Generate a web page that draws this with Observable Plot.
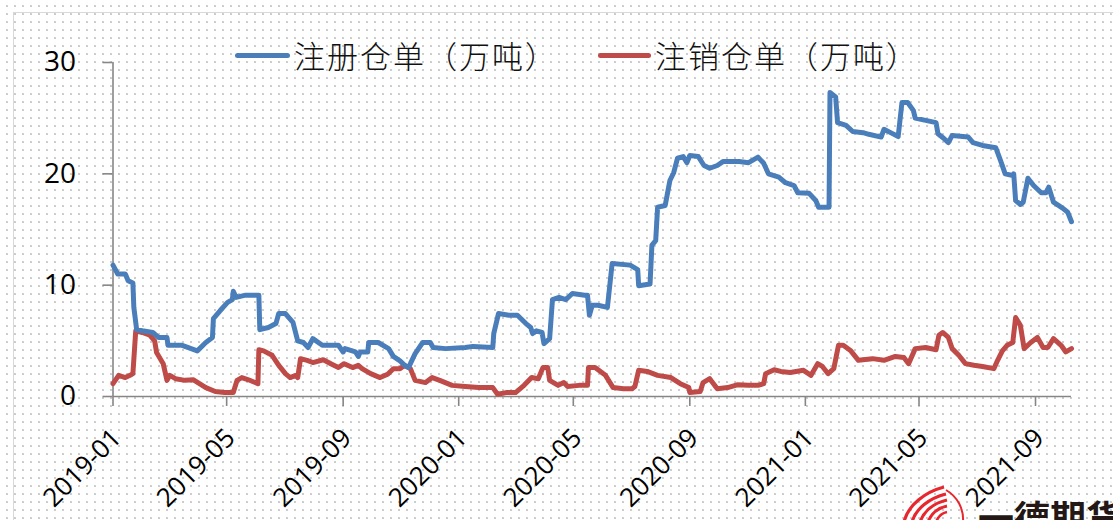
<!DOCTYPE html>
<html>
<head>
<meta charset="utf-8">
<script src="https://cdn.jsdelivr.net/npm/d3@7"></script>
<script src="https://cdn.jsdelivr.net/npm/@observablehq/plot@0.6"></script>
<style>
  html, body { margin: 0; padding: 0; }
  body {
    width: 1113px; height: 520px; overflow: hidden; position: relative;
    background-color: #ffffff;
    background-image: radial-gradient(circle, #cdcdcd 0.8px, rgba(255,255,255,0) 1.1px);
    background-size: 8px 8px;
    background-position: 3px 2px;
  }
  #frame { position: absolute; left: 13px; top: 12px; width: 1200px; height: 600px;
    border-left: 1.5px solid #d9d9d9; border-top: 1.5px solid #d9d9d9; }
  #chart { position: absolute; left: 0; top: 0; }
  .lg-sw { position: absolute; height: 5px; border-radius: 3px; }
  .lg-tx { position: absolute; font-family: "Noto Sans CJK SC", sans-serif; font-size: 31px;
    line-height: 31px; color: #111; font-weight: 300; white-space: nowrap; letter-spacing: 2px; }
  #logo { position: absolute; left: 0; top: 0; }
</style>
</head>
<body>
<div id="frame"></div>
<div id="chart"></div>
<div class="lg-sw" id="sw1" style="left:235px; top:52.5px; width:55px; background:#4a7ebb;"></div>
<div class="lg-tx" id="tx1" style="left:294px; top:39px;"></div>
<div class="lg-sw" id="sw2" style="left:598px; top:52.5px; width:53px; background:#be4b48;"></div>
<div class="lg-tx" id="tx2" style="left:655px; top:39px;"></div>
<script>
// ---- data ----
const seriesNames = ["注册仓单（万吨）", "注销仓单（万吨）"];
const seriesColors = ["#4a7ebb", "#be4b48"];

const tickDates = ["2019-01-01","2019-05-01","2019-09-01","2020-01-01","2020-05-01","2020-09-01","2021-01-01","2021-05-01","2021-09-01"];
const tickLabels = ["2019-01","2019-05","2019-09","2020-01","2020-05","2020-09","2021-01","2021-05","2021-09"];
const yTicks = [0, 10, 20, 30];

const regDates = [
 "2019-01-01","2019-01-06","2019-01-14","2019-01-17","2019-01-22","2019-01-23","2019-01-26","2019-02-01","2019-02-12","2019-02-18",
 "2019-02-27","2019-02-28","2019-03-15","2019-03-31","2019-04-09","2019-04-16","2019-04-17","2019-04-24","2019-05-02","2019-05-07",
 "2019-05-08","2019-05-11","2019-05-21","2019-06-04","2019-06-05","2019-06-14","2019-06-22","2019-06-25","2019-07-02","2019-07-10",
 "2019-07-15","2019-07-21","2019-07-26","2019-07-31","2019-08-10","2019-08-27","2019-09-01","2019-09-03","2019-09-14","2019-09-17",
 "2019-09-19","2019-09-27","2019-09-28","2019-10-08","2019-10-19","2019-10-24","2019-10-31","2019-11-05","2019-11-09","2019-11-16",
 "2019-11-24","2019-12-02","2019-12-05","2019-12-18","2020-01-08","2020-01-16","2020-02-06","2020-02-07","2020-02-12","2020-02-23",
 "2020-03-03","2020-03-12","2020-03-17","2020-03-19","2020-03-23","2020-03-29","2020-03-31","2020-04-06","2020-04-09","2020-04-16",
 "2020-04-23","2020-04-30","2020-05-13","2020-05-16","2020-05-18","2020-05-21","2020-05-27","2020-06-06","2020-06-11","2020-06-30",
 "2020-07-08","2020-07-09","2020-07-21","2020-07-23","2020-07-27","2020-07-29","2020-08-06","2020-08-08","2020-08-11","2020-08-15",
 "2020-08-19","2020-08-25","2020-08-29","2020-09-01","2020-09-10","2020-09-16","2020-09-22","2020-09-30","2020-10-06","2020-10-23",
 "2020-11-02","2020-11-12","2020-11-18","2020-11-23","2020-12-04","2020-12-11","2020-12-20","2020-12-24","2021-01-05","2021-01-12",
 "2021-01-15","2021-01-26","2021-01-27","2021-02-02","2021-02-04","2021-02-13","2021-02-20","2021-03-03","2021-03-09","2021-03-22",
 "2021-03-25","2021-04-01","2021-04-09","2021-04-13","2021-04-19","2021-04-25","2021-04-27","2021-05-08","2021-05-19","2021-05-21",
 "2021-05-27","2021-06-01","2021-06-05","2021-06-22","2021-06-27","2021-07-07","2021-07-21","2021-07-26","2021-07-31","2021-08-08",
 "2021-08-09","2021-08-11","2021-08-16","2021-08-19","2021-08-24","2021-08-30","2021-09-07","2021-09-12","2021-09-15","2021-09-20",
 "2021-09-30","2021-10-05","2021-10-09"
];
const regValues = [
 11.8, 11.0, 11.0, 10.4, 10.2, 8.0, 6.0, 5.9, 5.75, 5.3,
 5.3, 4.6, 4.6, 4.1, 4.85, 5.3, 7.0, 7.7, 8.45, 8.7,
 9.45, 8.9, 9.1, 9.1, 6.0, 6.2, 6.55, 7.45, 7.45, 6.65,
 5.0, 4.85, 4.4, 5.2, 4.6, 4.6, 4.0, 4.3, 4.0, 3.6,
 4.0, 4.0, 4.85, 4.85, 4.3, 3.6, 3.2, 2.8, 2.6, 3.85,
 4.85, 4.85, 4.4, 4.3, 4.4, 4.5, 4.4, 5.65, 7.45, 7.3,
 7.3, 6.55, 6.2, 5.65, 5.9, 5.75, 4.75, 5.2, 8.7, 8.9,
 8.7, 9.25, 9.1, 9.1, 7.3, 8.2, 8.2, 8.0, 11.95, 11.8,
 11.4, 9.95, 10.1, 13.6, 14.0, 17.0, 17.15, 18.05, 19.4, 20.1,
 21.4, 21.55, 21.0, 21.65, 21.55, 20.75, 20.5, 20.75, 21.1, 21.1,
 21.0, 21.5, 20.95, 20.0, 19.7, 19.2, 18.95, 18.3, 18.25, 17.6,
 17.0, 17.0, 27.3, 26.9, 24.6, 24.35, 23.8, 23.7, 23.55, 23.3,
 24.0, 23.7, 23.35, 26.4, 26.4, 25.7, 25.0, 24.8, 24.6, 23.6,
 23.2, 22.8, 23.45, 23.3, 22.8, 22.55, 22.35, 21.2, 20.0, 19.85,
 20.0, 17.6, 17.25, 17.45, 19.6, 18.95, 18.3, 18.3, 18.8, 17.45,
 16.9, 16.55, 15.7
];

const cancelDates = [
 "2019-01-01","2019-01-07","2019-01-14","2019-01-19","2019-01-22","2019-01-25","2019-02-01","2019-02-09","2019-02-14","2019-02-16",
 "2019-02-23","2019-02-27","2019-03-02","2019-03-08","2019-03-18","2019-03-27","2019-04-09","2019-04-19","2019-04-29","2019-05-08",
 "2019-05-12","2019-05-17","2019-05-24","2019-06-03","2019-06-04","2019-06-09","2019-06-18","2019-06-25","2019-07-02","2019-07-07",
 "2019-07-13","2019-07-15","2019-07-18","2019-07-25","2019-07-31","2019-08-11","2019-08-20","2019-08-27","2019-09-02","2019-09-11",
 "2019-09-17","2019-09-21","2019-09-30","2019-10-10","2019-10-18","2019-10-24","2019-10-31","2019-11-05","2019-11-11","2019-11-16",
 "2019-11-27","2019-12-04","2019-12-12","2019-12-25","2020-01-08","2020-01-22","2020-02-06","2020-02-11","2020-02-20","2020-03-01",
 "2020-03-10","2020-03-18","2020-03-25","2020-03-30","2020-04-04","2020-04-06","2020-04-15","2020-04-21","2020-04-25","2020-05-07",
 "2020-05-16","2020-05-17","2020-05-24","2020-06-04","2020-06-12","2020-06-23","2020-07-02","2020-07-05","2020-07-09","2020-07-18",
 "2020-07-29","2020-08-12","2020-08-22","2020-08-31","2020-09-01","2020-09-12","2020-09-15","2020-09-22","2020-09-30","2020-10-11",
 "2020-10-21","2020-11-02","2020-11-12","2020-11-18","2020-11-20","2020-11-29","2020-12-06","2020-12-16","2020-12-30","2021-01-07",
 "2021-01-14","2021-01-19","2021-01-25","2021-01-31","2021-02-05","2021-02-10","2021-02-18","2021-02-26","2021-03-13","2021-03-25",
 "2021-04-06","2021-04-15","2021-04-20","2021-04-27","2021-05-08","2021-05-19","2021-05-22","2021-05-26","2021-06-01","2021-06-05",
 "2021-06-12","2021-06-19","2021-06-28","2021-07-07","2021-07-19","2021-07-23","2021-07-28","2021-08-02","2021-08-08","2021-08-11",
 "2021-08-16","2021-08-20","2021-08-27","2021-09-03","2021-09-09","2021-09-14","2021-09-20","2021-09-28","2021-10-03","2021-10-09"
];
const cancelValues = [
 1.15, 1.9, 1.7, 1.9, 2.05, 5.9, 5.75, 5.5, 5.0, 3.95,
 2.95, 1.45, 1.9, 1.6, 1.45, 1.5, 0.8, 0.45, 0.35, 0.35,
 1.45, 1.7, 1.5, 1.15, 4.2, 4.1, 3.7, 2.8, 2.05, 1.7,
 1.9, 1.7, 3.4, 3.25, 3.05, 3.3, 2.9, 2.6, 2.95, 2.6,
 2.8, 2.5, 2.05, 1.7, 2.0, 2.5, 2.5, 2.8, 2.5, 1.45,
 1.25, 1.7, 1.45, 1.0, 0.9, 0.8, 0.8, 0.2, 0.35, 0.35,
 1.0, 1.7, 1.6, 2.6, 2.6, 1.45, 1.0, 1.25, 0.9, 1.0,
 1.0, 2.6, 2.6, 1.9, 0.8, 0.7, 0.7, 0.9, 2.35, 2.25,
 1.9, 1.7, 1.15, 0.8, 0.35, 0.45, 1.25, 1.6, 0.7, 0.8,
 1.05, 1.0, 1.0, 1.15, 2.05, 2.4, 2.25, 2.15, 2.35, 1.9,
 2.95, 2.7, 2.05, 2.5, 4.6, 4.6, 4.1, 3.25, 3.4, 3.25,
 3.6, 3.5, 2.95, 4.3, 4.4, 4.2, 5.5, 5.75, 5.3, 4.3,
 3.7, 2.95, 2.8, 2.7, 2.5, 3.25, 4.1, 4.6, 4.85, 7.1,
 6.4, 4.3, 4.85, 5.3, 4.4, 4.4, 5.2, 4.6, 4.0, 4.3
];

// ---- build tables ----
const reg = regDates.map((d, i) => ({date: new Date(d), value: regValues[i]}));
const cancel = cancelDates.map((d, i) => ({date: new Date(d), value: cancelValues[i]}));
const xStart = new Date(regDates[0]);
const xEnd = new Date(regDates[regDates.length - 1]);
const ticks = tickDates.map(d => new Date(d));
const labelOf = new Map(ticks.map((t, i) => [+t, tickLabels[i]]));

const axisColor = "#868686";

const chart = Plot.plot({
  width: 1113,
  height: 520,
  marginLeft: 112.5,
  marginRight: 42,
  marginTop: 62,
  marginBottom: 124,
  style: {background: "transparent", fontFamily: "'Open Sans', sans-serif", color: "#000", overflow: "visible"},
  x: {type: "utc", domain: [xStart, xEnd]},
  y: {domain: [0, 30]},
  marks: [
    Plot.ruleY([0], {stroke: axisColor, strokeWidth: 1.6}),
    Plot.ruleX([xStart], {stroke: axisColor, strokeWidth: 1.6}),
    Plot.axisY({ticks: yTicks, tickSize: 10, tickPadding: 27, fontSize: 28, stroke: axisColor, strokeWidth: 1.6,
      fill: "#000", tickFormat: d => String(d), label: null}),
    // tick marks only
    Plot.axisX({ticks: ticks, tickSize: 10, stroke: axisColor, strokeWidth: 1.6, tickFormat: () => "", label: null}),
    // rotated tick labels
    Plot.axisX({ticks: ticks, tickSize: 0, tickPadding: 37, tickRotate: -45, fontSize: 26, dx: 4,
      fill: "#000", tickFormat: d => labelOf.get(+d), label: null}),
    Plot.line(cancel, {x: "date", y: "value", stroke: seriesColors[1], strokeWidth: 5, strokeLinejoin: "round", strokeLinecap: "round"}),
    Plot.line(reg, {x: "date", y: "value", stroke: seriesColors[0], strokeWidth: 5, strokeLinejoin: "round", strokeLinecap: "round"})
  ]
});
document.getElementById("chart").appendChild(chart);
document.getElementById("tx1").textContent = seriesNames[0];
document.getElementById("tx2").textContent = seriesNames[1];

// ---- watermark logo (decoration) ----
const ns = "http://www.w3.org/2000/svg";
const logo = document.createElementNS(ns, "svg");
logo.setAttribute("id", "logo");
logo.setAttribute("width", 1113);
logo.setAttribute("height", 520);
logo.innerHTML = `
  <path d="M946,490 A34,34 0 0 1 963,522" fill="none" stroke="#e8262d" stroke-width="2"/>
  <path d="M904,522 C908,505 925,492 944,487" fill="none" stroke="#e8262d" stroke-width="3.2"/>
  <path d="M912,522 C916,508 930,498 946,494" fill="none" stroke="#e8262d" stroke-width="3.2"/>
  <path d="M920,522 C924,511 934,503 947,500" fill="none" stroke="#e8262d" stroke-width="3.2"/>
  <path d="M928,522 C931,514 938,508 947,506" fill="none" stroke="#e8262d" stroke-width="3"/>
  <path d="M936,522 C938,517 942,513 947,512" fill="none" stroke="#e8262d" stroke-width="2.6"/>
  <text x="978" y="532" font-family="'Noto Sans CJK SC', sans-serif" font-weight="700" font-size="36" fill="#231815">一德期货</text>
`;
document.body.appendChild(logo);
</script>
</body>
</html>
